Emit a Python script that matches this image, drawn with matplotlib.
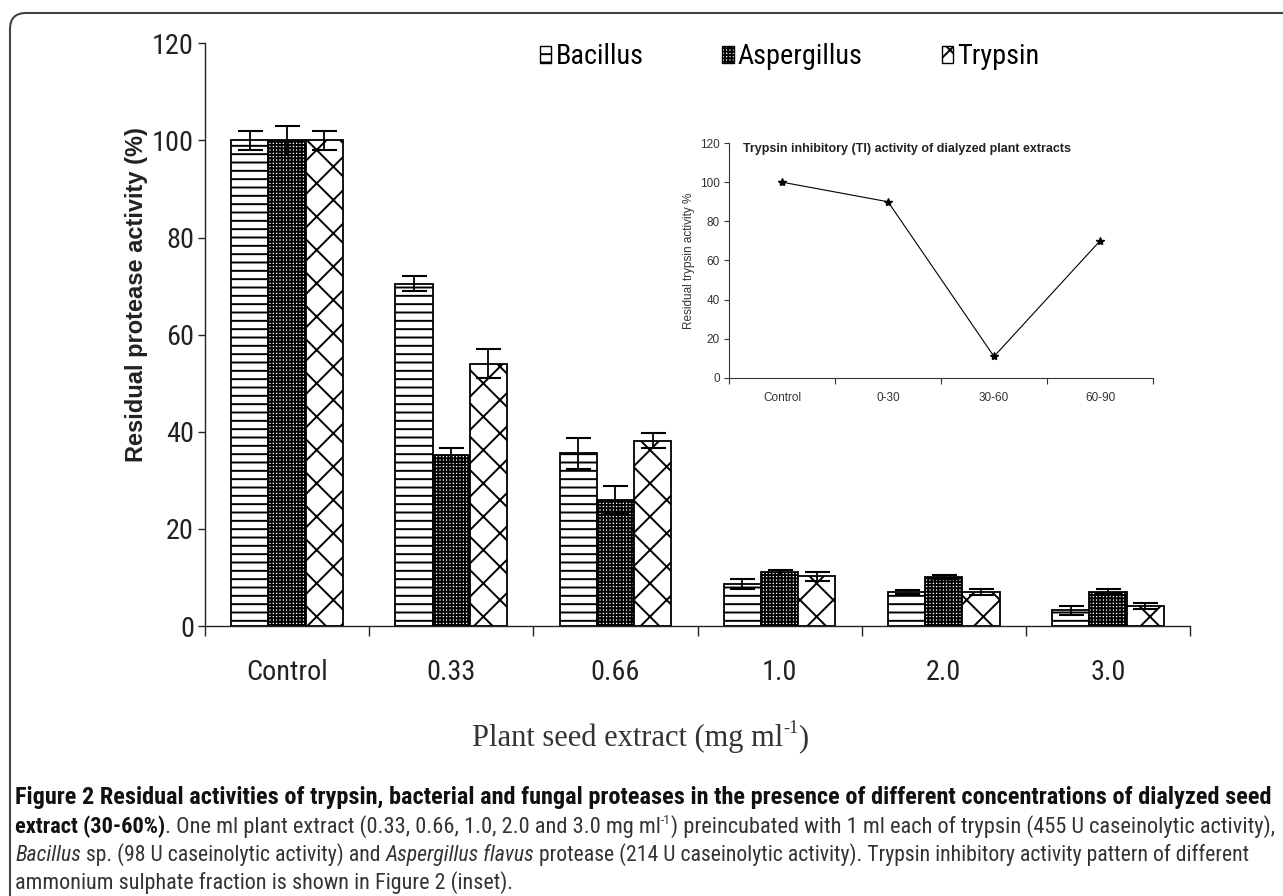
import numpy as np
import matplotlib.pyplot as plt
from matplotlib import font_manager
from matplotlib.patches import Patch, FancyBboxPatch

# data
categories = ['Control', '0.33', '0.66', '1.0', '2.0', '3.0']
bacillus = [100, 70.5, 35.6, 8.6, 7.0, 3.2]
bacillus_err = [2.0, 1.5, 3.2, 1.0, 0.5, 1.0]
aspergillus = [100, 35.2, 26.0, 11.1, 10.1, 7.1]
aspergillus_err = [3.0, 1.5, 2.8, 0.5, 0.5, 0.5]
trypsin = [100, 54.0, 38.2, 10.2, 7.0, 4.2]
trypsin_err = [2.0, 3.0, 1.6, 1.0, 0.6, 0.6]

fractions = ['Control', '0-30', '30-60', '60-90']
ti_activity = [100, 90, 11, 70]

plt.rcParams['font.family'] = 'Liberation Sans'
plt.rcParams['hatch.linewidth'] = 1.4

# look for a narrow sans (the original uses Arial Narrow)
prefs = ['Liberation Sans Narrow', 'Roboto Condensed', 'Open Sans Condensed',
         'DejaVu Sans Condensed', 'Roboto', 'Open Sans', 'Noto Sans', 'DejaVu Sans']
narrow, stretch = 'Liberation Sans', 'normal'
found = {}
for f in font_manager.fontManager.ttflist:
    cond = ('Narrow' in f.name or 'Condensed' in f.name
            or f.stretch in ('condensed', 'semi-condensed', 'extra-condensed')
            or (isinstance(f.stretch, int) and f.stretch < 100))
    if cond and f.style == 'normal':
        found.setdefault(f.name, f.stretch)
for p in prefs:
    if p in found:
        narrow, stretch = p, found[p]
        break

W, H = 1283, 896
fig = plt.figure(figsize=(W / 100, H / 100), dpi=100)
r = fig.canvas.get_renderer()


def fx(px):
    return px / W


def fy(py):
    return 1 - py / H


def tw(s, **kw):
    t = fig.text(0, 0, s + '|', **kw)
    w1 = t.get_window_extent(r).width
    t.set_text('|')
    w2 = t.get_window_extent(r).width
    t.remove()
    return w1 - w2


NF = dict(family=narrow, stretch=stretch)
# size so that "Bacillus" is as wide as in the picture (88 px at 22 pt narrow)
k = min(1.0, 88 / tw('Bacillus', fontsize=22, **NF))
big = 22 * k

# main bar chart
ax = fig.add_axes([fx(205), fy(626), fx(1190) - fx(205), fy(43.3) - fy(626)])
x = np.arange(len(categories))
bw = 0.2265
ekw = dict(ecolor='black', elinewidth=1.3, capsize=9, capthick=1.5)
ax.bar(x - bw, bacillus, bw, yerr=bacillus_err, color='white', edgecolor='black',
       hatch='--', linewidth=1.3, error_kw=ekw, zorder=2)
ax.bar(x, aspergillus, bw, yerr=aspergillus_err, color='white', edgecolor='black',
       hatch='+++++', linewidth=1.3, error_kw=ekw, zorder=2)
ax.bar(x + bw, trypsin, bw, yerr=trypsin_err, color='white', edgecolor='black',
       hatch='x', linewidth=1.3, error_kw=ekw, zorder=2)

ax.set_xlim(-0.5, len(categories) - 0.5)
ax.set_ylim(0, 120)
ax.set_yticks(np.arange(0, 121, 20))
ax.set_xticks(np.arange(-0.5, len(categories), 1), labels=[''] * (len(categories) + 1))
ax.set_xticks(x, labels=categories, minor=True)
for s in ['top', 'right']:
    ax.spines[s].set_visible(False)
for s in ['left', 'bottom']:
    ax.spines[s].set_color('#222')
    ax.spines[s].set_linewidth(1.0)
ax.tick_params(axis='x', which='major', length=7.2, width=1.0, color='#222')
ax.tick_params(axis='x', which='minor', length=0, pad=24)
ax.tick_params(axis='y', length=5, width=1.0, color='#222', pad=3)
for lab in ax.get_xticklabels(minor=True) + ax.get_yticklabels():
    lab.set_fontfamily(narrow)
    lab.set_fontstretch(stretch)
    lab.set_fontsize(big)
    lab.set_color('#222')
ax.patch.set_visible(False)

fig.text(fx(136), fy(295), 'Residual protease activity (%)', rotation=90,
         ha='center', va='center', fontsize=17, fontweight='bold', color='#222')

handles = [Patch(facecolor='white', edgecolor='black', hatch='--', lw=1.0),
           Patch(facecolor='white', edgecolor='black', hatch='+++++', lw=1.0),
           Patch(facecolor='white', edgecolor='black', hatch='x', lw=1.0)]
fig.legend(handles, ['Bacillus', 'Aspergillus', 'Trypsin'], loc='center left',
           bbox_to_anchor=(fx(540), fy(57)), ncol=3, frameon=False,
           prop=dict(size=big, **NF), handlelength=0.4,
           handleheight=0.55, handletextpad=0.15, columnspacing=2.8,
           borderpad=0, borderaxespad=0)

# inset line chart
axi = fig.add_axes([fx(729), fy(378), fx(1153) - fx(729), fy(143) - fy(378)])
xi = np.arange(len(fractions))
axi.plot(xi, ti_activity, color='black', lw=0.8, marker='*', ms=6)
axi.set_xlim(-0.5, len(fractions) - 0.5)
axi.set_ylim(0, 120)
axi.set_yticks(np.arange(0, 121, 20))
axi.set_xticks(np.arange(-0.5, len(fractions), 1), labels=[''] * (len(fractions) + 1))
axi.set_xticks(xi, labels=fractions, minor=True)
for s in ['top', 'right']:
    axi.spines[s].set_visible(False)
for s in ['left', 'bottom']:
    axi.spines[s].set_color('#333')
    axi.spines[s].set_linewidth(0.8)
axi.tick_params(axis='x', which='major', length=4.3, width=0.8, color='#333')
axi.tick_params(axis='x', which='minor', length=0, pad=10, labelsize=8.5, labelcolor='#333')
axi.tick_params(axis='y', length=3.5, width=0.8, color='#333', pad=3, labelsize=8.5,
                labelcolor='#333')
axi.set_ylabel('Residual trypsin activity %', fontsize=8.5, color='#333', labelpad=4)
axi.text(-0.37, 117, 'Trypsin inhibitory (TI) activity of dialyzed plant extracts',
         ha='left', va='center', fontsize=9, fontweight='bold', color='#222')
axi.patch.set_visible(False)


def rich_line(x_px, y_px, parts, size, font, center=False):
    sizes = []
    total = 0
    for txt, weight, style, sup in parts:
        fs = size * 0.6 if sup else size
        sizes.append(fs)
        total += tw(txt, fontsize=fs, fontweight=weight, fontstyle=style, **font)
    if center:
        x_px = x_px - total / 2
    for (txt, weight, style, sup), fs in zip(parts, sizes):
        yy = y_px - (size * 100 / 72 * 0.42 if sup else 0)
        kw = dict(fontsize=fs, fontweight=weight, fontstyle=style, **font)
        fig.text(fx(x_px), fy(yy), txt, va='baseline', ha='left',
                 color='#111' if weight == 'bold' else '#333', **kw)
        x_px += tw(txt, **kw)


rich_line(640, 746, [('Plant seed extract (mg ml', 'normal', 'normal', False),
                     ('-1', 'normal', 'normal', True),
                     (')', 'normal', 'normal', False)], 22,
          dict(family='Liberation Serif'), center=True)

line1 = [('Figure 2 Residual activities of trypsin, bacterial and fungal proteases in the '
          'presence of different concentrations of dialyzed seed', 'bold', 'normal', False)]
line2 = [('extract (30-60%)', 'bold', 'normal', False),
         ('. One ml plant extract (0.33, 0.66, 1.0, 2.0 and 3.0 mg ml', 'normal', 'normal', False),
         ('-1', 'normal', 'normal', True),
         (') preincubated with 1 ml each of trypsin (455 U caseinolytic activity),',
          'normal', 'normal', False)]
line3 = [('Bacillus', 'normal', 'italic', False),
         (' sp. (98 U caseinolytic activity) and ', 'normal', 'normal', False),
         ('Aspergillus flavus', 'normal', 'italic', False),
         (' protease (214 U caseinolytic activity). Trypsin inhibitory activity '
          'pattern of different', 'normal', 'normal', False)]
line4 = [('ammonium sulphate fraction is shown in Figure 2 (inset).', 'normal', 'normal', False)]


def line_width(parts, size):
    return sum(tw(t, fontsize=size * (0.6 if s else 1), fontweight=w, fontstyle=st, **NF)
               for t, w, st, s in parts)


# caption lines end where they end in the picture
s1 = 12 * 1262 / line_width(line1, 12)
s2 = 12 * 1258 / line_width(line2, 12)
s3 = 12 * 1232 / line_width(line3, 12)
s4 = (s2 + s3) / 2
for yb, parts, sz in zip([804, 833, 861, 889], [line1, line2, line3, line4], [s1, s2, s3, s4]):
    rich_line(15, yb, parts, sz, NF)

# page frame with rounded corner
frame = FancyBboxPatch((0.10, -1.0), 30, 8.83 + 1.0, boxstyle='round,pad=0,rounding_size=0.16',
                       transform=fig.dpi_scale_trans, fill=False, edgecolor='#444', lw=1.5)
fig.add_artist(frame)

fig.savefig('out.png', dpi=100)
